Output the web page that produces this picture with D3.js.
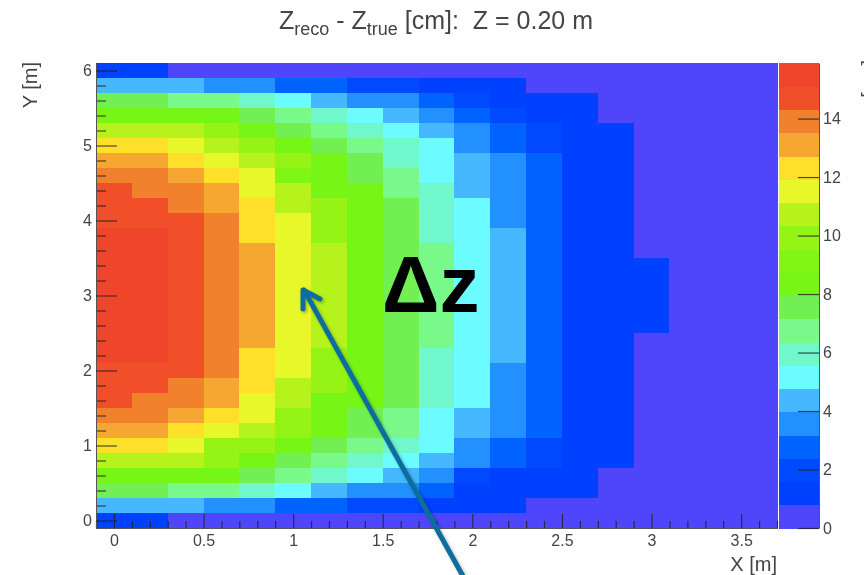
<!DOCTYPE html>
<html>
<head>
<meta charset="utf-8">
<script src="https://cdn.jsdelivr.net/npm/d3@7"></script>
<style>
  html, body { margin: 0; padding: 0; background: #fff; overflow: hidden; }
  svg { display: block; }
  text { font-family: "Liberation Sans", Arial, sans-serif; fill: #444; white-space: pre; }
</style>
</head>
<body>
<svg id="chart" width="864" height="575"></svg>
<script>
// band colours of the palette, low to high
const palette = ["#5045fb", "#0040ff", "#0048ff", "#0062ff", "#2490ff", "#45b8ff", "#6cfcff", "#70f8cc",
  "#78f98a", "#72f052", "#76f518", "#80f516", "#96f318", "#b6f31f", "#e8f72a", "#fee02a",
  "#f5a733", "#f2812e", "#f0502c", "#ef452c"];

// Zreco - Ztrue in cm, read per bin. First row is Y = 6.0 m, last is Y = 0 m; columns start at X = 0 m
const dz = [
  [1.2, 1.2, .4, .4, .4, .4, .4, .4, .4, .4, .4, .4, .4, .4, .4, .4, .4, .4, .4],
  [4.4, 4.4, 4.4, 3.6, 3.6, 2.8, 2.8, 2.0, 2.0, 1.2, 1.2, 1.2, .4, .4, .4, .4, .4, .4, .4],
  [7.6, 7.6, 6.8, 6.8, 6.0, 5.2, 4.4, 3.6, 3.6, 2.8, 2.0, 1.2, 1.2, 1.2, .4, .4, .4, .4, .4],
  [8.3, 8.3, 8.3, 8.3, 7.6, 6.8, 6.0, 5.2, 4.4, 3.6, 2.8, 2.0, 1.2, 1.2, .4, .4, .4, .4, .4],
  [10.7, 10.7, 10.7, 9.9, 8.3, 7.6, 6.8, 6.0, 5.2, 4.4, 3.6, 2.8, 2.0, 1.2, 1.2, .4, .4, .4, .4],
  [12.3, 12.3, 11.5, 10.7, 9.9, 8.3, 7.6, 6.8, 6.0, 5.2, 3.6, 2.8, 2.0, 1.2, 1.2, .4, .4, .4, .4],
  [13.1, 13.1, 12.3, 11.5, 10.7, 9.9, 8.3, 7.6, 6.0, 5.2, 4.4, 3.6, 2.8, 1.2, 1.2, .4, .4, .4, .4],
  [13.9, 13.9, 13.1, 12.3, 11.5, 9.1, 8.3, 7.6, 6.8, 5.2, 4.4, 3.6, 2.8, 1.2, 1.2, .4, .4, .4, .4],
  [14.7, 13.9, 13.9, 13.1, 11.5, 10.7, 8.3, 8.3, 6.8, 6.0, 4.4, 3.6, 2.8, 1.2, 1.2, .4, .4, .4, .4],
  [14.7, 14.7, 13.9, 13.1, 12.3, 10.7, 9.9, 8.3, 7.6, 6.0, 5.2, 3.6, 2.8, 1.2, 1.2, .4, .4, .4, .4],
  [14.7, 14.7, 14.7, 13.9, 12.3, 11.5, 9.9, 8.3, 7.6, 6.0, 5.2, 3.6, 2.8, 1.2, 1.2, .4, .4, .4, .4],
  [15.5, 15.5, 14.7, 13.9, 12.3, 11.5, 9.9, 8.3, 7.6, 6.0, 5.2, 4.4, 2.8, 1.2, 1.2, .4, .4, .4, .4],
  [15.5, 15.5, 14.7, 13.9, 13.1, 11.5, 10.7, 8.3, 7.6, 6.8, 5.2, 4.4, 2.8, 1.2, 1.2, .4, .4, .4, .4],
  [15.5, 15.5, 14.7, 13.9, 13.1, 11.5, 10.7, 8.3, 7.6, 6.8, 5.2, 4.4, 2.8, 1.2, 1.2, 1.2, .4, .4, .4],
  [15.5, 15.5, 14.7, 13.9, 13.1, 11.5, 10.7, 8.3, 7.6, 6.8, 5.2, 4.4, 2.8, 1.2, 1.2, 1.2, .4, .4, .4],
  [15.5, 15.5, 14.7, 13.9, 13.1, 11.5, 10.7, 8.3, 7.6, 6.8, 5.2, 4.4, 2.8, 1.2, 1.2, 1.2, .4, .4, .4],
  [15.5, 15.5, 14.7, 13.9, 13.1, 11.5, 10.7, 8.3, 7.6, 6.8, 5.2, 4.4, 2.8, 1.2, 1.2, 1.2, .4, .4, .4],
  [15.5, 15.5, 14.7, 13.9, 13.1, 11.5, 10.7, 8.3, 7.6, 6.8, 5.2, 4.4, 2.8, 1.2, 1.2, 1.2, .4, .4, .4],
  [15.5, 15.5, 14.7, 13.9, 13.1, 11.5, 10.7, 8.3, 7.6, 6.8, 5.2, 4.4, 2.8, 1.2, 1.2, .4, .4, .4, .4],
  [15.5, 15.5, 14.7, 13.9, 12.3, 11.5, 9.9, 8.3, 7.6, 6.0, 5.2, 4.4, 2.8, 1.2, 1.2, .4, .4, .4, .4],
  [14.7, 14.7, 14.7, 13.9, 12.3, 11.5, 9.9, 8.3, 7.6, 6.0, 5.2, 3.6, 2.8, 1.2, 1.2, .4, .4, .4, .4],
  [14.7, 14.7, 13.9, 13.1, 12.3, 10.7, 9.9, 8.3, 7.6, 6.0, 5.2, 3.6, 2.8, 1.2, 1.2, .4, .4, .4, .4],
  [14.7, 13.9, 13.9, 13.1, 11.5, 10.7, 8.3, 8.3, 7.6, 6.0, 5.2, 3.6, 2.8, 1.2, 1.2, .4, .4, .4, .4],
  [13.9, 13.9, 13.1, 12.3, 11.5, 9.9, 8.3, 7.6, 6.8, 5.2, 4.4, 3.6, 2.8, 1.2, 1.2, .4, .4, .4, .4],
  [13.1, 13.1, 12.3, 11.5, 10.7, 9.9, 8.3, 7.6, 6.8, 5.2, 4.4, 3.6, 2.8, 1.2, 1.2, .4, .4, .4, .4],
  [12.3, 12.3, 11.5, 9.9, 9.9, 8.3, 7.6, 6.8, 6.0, 5.2, 3.6, 2.8, 2.0, 1.2, 1.2, .4, .4, .4, .4],
  [10.7, 10.7, 10.7, 9.9, 8.3, 7.6, 6.8, 6.0, 5.2, 4.4, 3.6, 2.8, 2.0, 1.2, 1.2, .4, .4, .4, .4],
  [8.3, 8.3, 8.3, 8.3, 7.6, 6.8, 6.0, 5.2, 4.4, 3.6, 2.0, 1.2, 1.2, 1.2, .4, .4, .4, .4, .4],
  [7.6, 7.6, 6.8, 6.8, 6.0, 5.2, 4.4, 3.6, 3.6, 2.8, 1.2, 1.2, 1.2, 1.2, .4, .4, .4, .4, .4],
  [4.4, 4.4, 4.4, 3.6, 3.6, 2.8, 2.8, 2.0, 2.0, 1.2, 1.2, 1.2, .4, .4, .4, .4, .4, .4, .4],
  [1.2, 1.2, .4, .4, .4, .4, .4, .4, .4, .4, .4, .4, .4, .4, .4, .4, .4, .4, .4]
];

// axis settings
const binSize = 0.2; // m
const xDomain = [-0.1, 3.7];
const yDomain = [-0.1, 6.1];
const zMax = 15.9;
const xTicks = [0, 0.5, 1, 1.5, 2, 2.5, 3, 3.5];
const yTicks = [0, 1, 2, 3, 4, 5, 6];
const zTicks = [0, 2, 4, 6, 8, 10, 12, 14];

const svg = d3.select("#chart");

// a little blur, the reference is a scaled-up screenshot
const blur = svg.append("defs").append("filter").attr("id", "soft");
blur.append("feGaussianBlur").attr("stdDeviation", 0.6);
const shadow = svg.select("defs").append("filter").attr("id", "shadow")
  .attr("x", "-20%").attr("y", "-20%").attr("width", "140%").attr("height", "140%");
shadow.append("feDropShadow").attr("dx", 1.5).attr("dy", 1.5).attr("stdDeviation", 1.5)
  .attr("flood-color", "#000").attr("flood-opacity", 0.3);

const xScale = d3.scaleLinear().domain(xDomain).range([96, 777]);
const yScale = d3.scaleLinear().domain(yDomain).range([528, 63]);
const zScale = d3.scaleLinear().domain([0, zMax]).range([528, 63]);
const colorScale = d3.scaleQuantize().domain([0, zMax]).range(palette);

const chart = svg.append("g").attr("filter", "url(#soft)");

//画所有的格子
const cells = dz.flatMap((row, i) => row.map((v, j) => ({
  x: j * binSize,
  y: (dz.length - 1 - i) * binSize,
  v: v
})));

chart.append("g").selectAll("rect").data(cells).join("rect")
  .attr("x", d => xScale(d.x - binSize / 2))
  .attr("y", d => yScale(d.y + binSize / 2))
  .attr("width", d => xScale(d.x + binSize / 2) - xScale(d.x - binSize / 2) + 0.5)
  .attr("height", d => yScale(d.y - binSize / 2) - yScale(d.y + binSize / 2) + 0.5)
  .attr("fill", d => colorScale(d.v))
  .attr("shape-rendering", "crispEdges");

//颜色条
const bandWidth = zMax / palette.length;
chart.append("g").selectAll("rect").data(palette).join("rect")
  .attr("x", 779)
  .attr("width", 40)
  .attr("y", (d, i) => zScale((i + 1) * bandWidth))
  .attr("height", (d, i) => zScale(i * bandWidth) - zScale((i + 1) * bandWidth) + 0.5)
  .attr("fill", d => d)
  .attr("shape-rendering", "crispEdges");

function styleAxis(g) {
  g.selectAll(".domain").attr("stroke", "#555").attr("stroke-width", 1);
  g.selectAll(".tick line").attr("stroke", "#222").attr("stroke-opacity", 0.8).attr("stroke-width", 1.2);
  g.selectAll(".tick text").attr("font-size", 16).attr("fill", "#444");
}

//x轴，刻度朝内
const xMinor = d3.range(-1, 38).map(d => d / 10).filter(d => !xTicks.includes(d));
chart.append("g").attr("transform", "translate(0,528)")
  .call(d3.axisBottom(xScale).tickValues(xMinor).tickSizeInner(-7).tickSizeOuter(0).tickFormat(""))
  .call(styleAxis);
chart.append("g").attr("transform", "translate(0,528)")
  .call(d3.axisBottom(xScale).tickValues(xTicks).tickSizeInner(-14).tickSizeOuter(0).tickPadding(7).tickFormat(d3.format("")))
  .call(styleAxis);

//y轴，刻度朝内
const yMinor = d3.range(0, 31).map(d => d / 5).filter(d => !yTicks.includes(d));
chart.append("g").attr("transform", "translate(96,0)")
  .call(d3.axisLeft(yScale).tickValues(yMinor).tickSizeInner(-10).tickSizeOuter(0).tickFormat(""))
  .call(styleAxis);
chart.append("g").attr("transform", "translate(96,0)")
  .call(d3.axisLeft(yScale).tickValues(yTicks).tickSizeInner(-21).tickSizeOuter(0).tickPadding(4).tickFormat(d3.format("d")))
  .call(styleAxis);

//颜色条的轴
chart.append("g").attr("transform", "translate(819,0)")
  .call(d3.axisRight(zScale).tickValues(zTicks).tickSizeInner(-21).tickSizeOuter(0).tickPadding(4).tickFormat(d3.format("d")))
  .call(styleAxis);

//标题
const title = chart.append("text").attr("x", 436).attr("y", 29)
  .attr("text-anchor", "middle").attr("font-size", 25);
title.append("tspan").text("Z");
title.append("tspan").text("reco").attr("font-size", 18).attr("dy", 6);
title.append("tspan").text(" - Z").attr("dy", -6);
title.append("tspan").text("true").attr("font-size", 18).attr("dy", 6);
title.append("tspan").text(" [cm]:  Z = 0.20 m").attr("dy", -6);

//坐标轴名称
chart.append("text").attr("x", 777).attr("y", 571)
  .attr("text-anchor", "end").attr("font-size", 20).text("X [m]");
chart.append("text").attr("transform", "translate(37,62) rotate(-90)")
  .attr("text-anchor", "end").attr("font-size", 20).text("Y [m]");
// colour bar title, cut off by the right edge in the reference too
chart.append("text").attr("transform", "translate(876,60) rotate(-90)")
  .attr("text-anchor", "end").attr("font-size", 20).text("[cm]");

//注释
svg.append("text").attr("x", 382).attr("y", 312)
  .attr("font-size", 80).attr("font-weight", "bold")
  .style("fill", "#000").text("Δz");

const arrow = svg.append("g").attr("fill", "none").attr("stroke", "#0a6e9e")
  .attr("stroke-width", 5).attr("stroke-linecap", "round").attr("stroke-linejoin", "round")
  .attr("filter", "url(#shadow)");
arrow.append("path").attr("d", "M464,578L304,290");
arrow.append("path").attr("d", "M303,309L303,290L320,299");
</script>
</body>
</html>
